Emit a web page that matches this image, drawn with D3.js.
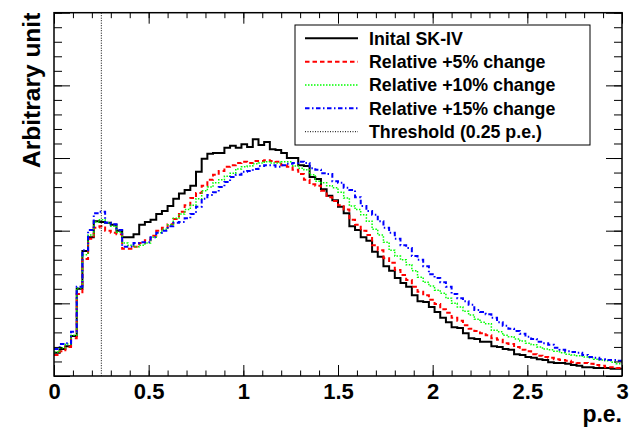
<!DOCTYPE html>
<html><head><meta charset="utf-8">
<script src="https://cdn.jsdelivr.net/npm/d3@7"></script>
<style>body{margin:0;background:#fff;}svg{display:block;font-family:"Liberation Sans",Arial,sans-serif;font-weight:bold;}</style>
</head><body><svg id="c" width="644" height="430"></svg>
<script>
// 100 bins of width 0.03 p.e. from 0 to 3
const binWidth = 0.03;
const nBins = 100;
const xTicks = [0, 0.5, 1, 1.5, 2, 2.5, 3];
const xTickLabels = ["0", "0.5", "1", "1.5", "2", "2.5", "3"];
const threshold = 0.25;

const initial = [32,37,41,55,120,172,191,213,212,211,208,200,191,191,195,208,212,215,223,227,
234,244,251,256,262,281,299,306,307,307,314,317,314,319,315,326,318,322,312,311,
307,300,300,290,289,274,271,257,248,242,233,224,206,201,191,186,171,164,151,145,
135,128,123,111,103,102,95,88,80,74,67,66,59,52,51,47,47,41,40,37,
36,30,29,26,25,23,22,19,18,18,17,15,14,12,12,11,11,11,10,10];
const plus5 = [29,34,40,52,113,161,189,204,206,200,197,195,175,175,178,183,187,193,200,204,
209,216,226,235,245,252,262,270,277,282,288,290,293,295,293,296,296,297,296,295,
290,288,284,278,270,264,262,255,246,241,235,229,215,208,200,194,180,173,162,156,
146,139,132,123,116,111,105,99,92,87,80,76,70,65,62,59,56,52,50,45,
44,40,36,34,30,28,26,25,23,22,21,19,18,18,17,15,14,12,12,11];
const plus10 = [33,39,44,56,121,167,194,212,215,211,206,198,183,180,178,180,183,191,197,202,
208,217,223,229,235,244,255,260,266,270,275,279,285,288,289,292,293,295,293,293,
295,295,289,286,284,277,268,266,262,259,253,245,234,229,222,213,202,194,184,173,
165,160,153,145,136,129,124,118,114,107,100,95,89,84,78,74,72,63,61,56,
54,51,48,45,43,40,37,36,34,32,30,29,28,26,25,23,22,21,19,17];
const plus15 = [37,44,45,61,123,173,201,224,226,211,209,201,178,178,183,184,184,191,197,200,
206,211,212,217,223,233,244,249,253,260,267,274,277,281,282,285,289,290,290,288,
290,292,293,295,293,286,284,279,278,268,266,259,256,246,234,227,222,213,204,197,
189,180,176,165,160,151,140,135,129,123,113,107,103,98,91,88,85,80,74,69,
65,62,58,54,51,47,45,43,39,36,34,33,32,29,26,25,23,22,22,21];

const seriesNames = ["Inital SK-IV", "Relative +5% change", "Relative +10% change", "Relative +15% change"];
const seriesColors = ["#000000", "#ff0000", "#00ff00", "#0000ff"];
const seriesDash = [null, "4.5 3", "1.5 1.5", "4.5 2.5 1.5 2.5"];
const seriesWidth = [2, 2, 1.5, 2];
const seriesData = [initial, plus5, plus10, plus15];

const W = 644, H = 430;
const m = {left: 54, right: 22, top: 12.7, bottom: 54};
const svg = d3.select("#c");
const x = d3.scaleLinear().domain([0, 3]).range([m.left, W - m.right]);
const y = d3.scaleLinear().domain([0, 500]).range([H - m.bottom, m.top]);

// histograms
const line = d3.line().x(d => x(d[0])).y(d => y(d[1])).curve(d3.curveStepAfter);
seriesData.forEach((vals, k) => {
  const pts = vals.map((v, i) => [i * binWidth, v]);
  pts.push([nBins * binWidth, vals[vals.length - 1]]);
  svg.append("path").attr("d", line(pts)).attr("fill", "none")
    .attr("stroke", seriesColors[k]).attr("stroke-width", seriesWidth[k])
    .attr("stroke-dasharray", seriesDash[k]);
});

// threshold
svg.append("line").attr("x1", x(threshold)).attr("x2", x(threshold))
  .attr("y1", y(500)).attr("y2", y(0)).attr("stroke", "#000")
  .attr("stroke-width", 1).attr("stroke-dasharray", "1 1.5");

// axes
const minorX = d3.range(0, 3.0001, 0.1);
const gAx = svg.append("g");
const axBottom = gAx.append("g").attr("transform", `translate(0,${y(0)})`)
  .call(d3.axisBottom(x).tickValues(xTicks).tickFormat((d, i) => xTickLabels[i]).tickSize(-11).tickPadding(7));
axBottom.selectAll("text").attr("font-size", 22).attr("fill", "#000").attr("font-family", "Liberation Sans, Arial, sans-serif").attr("font-weight", "bold");
gAx.append("g").attr("transform", `translate(0,${y(0)})`)
  .call(d3.axisBottom(x).tickValues(minorX).tickFormat("").tickSize(-5.5));
gAx.append("g").attr("transform", `translate(0,${y(500)})`)
  .call(d3.axisTop(x).tickValues(xTicks).tickFormat("").tickSize(-11));
gAx.append("g").attr("transform", `translate(0,${y(500)})`)
  .call(d3.axisTop(x).tickValues(minorX).tickFormat("").tickSize(-5.5));
const majorY = d3.range(0, 501, 100), minorY = d3.range(0, 501, 20);
gAx.append("g").attr("transform", `translate(${x(0)},0)`)
  .call(d3.axisLeft(y).tickValues(majorY).tickFormat("").tickSize(-16));
gAx.append("g").attr("transform", `translate(${x(0)},0)`)
  .call(d3.axisLeft(y).tickValues(minorY).tickFormat("").tickSize(-8));
gAx.append("g").attr("transform", `translate(${x(3)},0)`)
  .call(d3.axisRight(y).tickValues(majorY).tickFormat("").tickSize(-16));
gAx.append("g").attr("transform", `translate(${x(3)},0)`)
  .call(d3.axisRight(y).tickValues(minorY).tickFormat("").tickSize(-8));
gAx.selectAll(".domain").remove();
gAx.selectAll("line").attr("stroke", "#000").attr("stroke-width", 1);
// frame
svg.append("rect").attr("x", x(0)).attr("y", y(500)).attr("width", x(3) - x(0)).attr("height", y(0) - y(500))
  .attr("fill", "none").attr("stroke", "#000").attr("stroke-width", 1.5);

// axis titles
svg.append("text").attr("x", x(3)).attr("y", 422).attr("text-anchor", "end")
  .attr("font-size", 23).text("p.e.");
svg.append("text").attr("transform", `translate(40,${y(500)}) rotate(-90)`).attr("text-anchor", "end")
  .attr("font-size", 24.5).text("Arbitrary unit");

// legend
const lg = svg.append("g");
lg.append("rect").attr("x", 295).attr("y", 25).attr("width", 295).attr("height", 120)
  .attr("fill", "#fff").attr("stroke", "#000").attr("stroke-width", 1);
const legNames = seriesNames.concat(["Threshold (0.25 p.e.)"]);
const legColors = seriesColors.concat(["#000"]);
const legDash = seriesDash.concat(["1 1.5"]);
const legWidth = seriesWidth.concat([1]);
legNames.forEach((n, i) => {
  const yy = 38.3 + i * 23.35;
  lg.append("line").attr("x1", 305).attr("x2", 358).attr("y1", yy).attr("y2", yy)
    .attr("stroke", legColors[i]).attr("stroke-width", legWidth[i]).attr("stroke-dasharray", legDash[i]);
  lg.append("text").attr("x", 369).attr("y", yy + 6.3).attr("font-size", 17.8).text(n);
});
</script></body></html>
